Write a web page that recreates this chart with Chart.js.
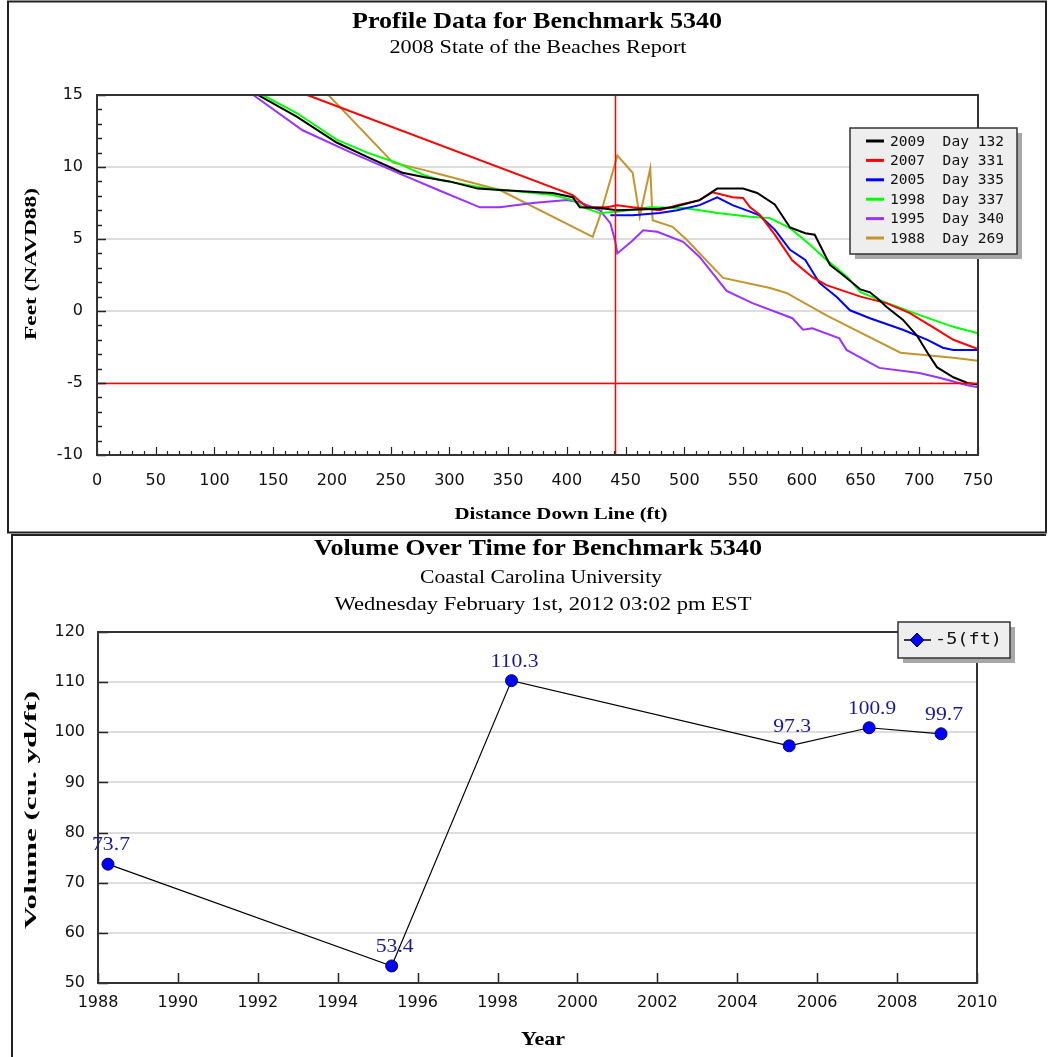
<!DOCTYPE html>
<html><head><meta charset="utf-8">
<script src="https://cdn.jsdelivr.net/npm/chart.js@4.4.1/dist/chart.umd.min.js"></script>
<style>
html,body{margin:0;padding:0;background:#fff;overflow:hidden}
#c1{position:absolute;left:0;top:0}
#c2{position:absolute;left:0;top:534px}
</style></head><body>
<canvas id="c1" width="1052" height="534"></canvas>
<canvas id="c2" width="1052" height="523"></canvas>
<script>
// ---------- Profile chart data (distance ft, elevation ft NAVD88) ----------
const dist2009 = [137,170,204,230,260,278,300,324,343,388,405,411,428,443,479,490,513,528,550,562,577,590,603,611,624,635,650,658,664,672,686,698,707,715,729,741,750];
const feet2009 = [15,13.5,11.7,10.7,9.6,9.3,9.0,8.5,8.4,8.2,7.9,7.2,7.15,7.0,7.1,7.2,7.7,8.5,8.5,8.2,7.4,5.8,5.4,5.3,3.2,2.5,1.5,1.3,0.9,0.3,-0.6,-1.7,-2.9,-3.9,-4.6,-5.0,-5.1];
const dist2007 = [179,405,417,434,443,456,479,494,513,524,541,550,556,564,577,592,609,621,650,672,692,715,729,750];
const feet2007 = [15,8.05,7.2,7.2,7.35,7.2,7.0,7.35,7.7,8.25,7.9,7.85,7.2,6.7,5.3,3.5,2.35,1.8,1.0,0.55,-0.15,-1.3,-2.0,-2.65];
const dist2005 = [437,456,479,494,513,528,541,556,564,577,590,603,615,630,641,658,686,707,720,729,750];
const feet2005 = [6.65,6.65,6.8,7.0,7.35,7.9,7.35,6.9,6.65,5.65,4.25,3.55,1.95,0.95,0.05,-0.5,-1.3,-2.0,-2.55,-2.7,-2.7];
const dist1998 = [141,170,204,230,255,278,292,329,388,405,414,428,443,471,499,513,528,556,573,590,607,621,639,650,673,701,729,750];
const feet1998 = [15,13.75,11.9,11.0,10.3,9.45,9.1,8.55,8.05,7.7,7.2,6.8,6.9,7.2,7.15,7.0,6.8,6.55,6.45,5.75,4.6,3.55,2.35,1.3,0.55,-0.3,-1.1,-1.55];
const dist1995 = [133,175,215,260,292,326,343,371,400,411,428,437,441,443,456,465,477,499,513,536,558,592,601,609,632,638,666,700,718,741,750];
const feet1995 = [15,12.55,11.05,9.45,8.35,7.2,7.2,7.5,7.7,7.55,7.0,6.1,4.9,4.0,4.9,5.6,5.5,4.8,3.75,1.4,0.55,-0.5,-1.3,-1.2,-1.9,-2.7,-3.95,-4.3,-4.65,-5.15,-5.3];
const dist1988 = [197,252,278,292,343,422,428,443,456,462,471,473,490,502,533,573,587,621,684,729,750];
const feet1988 = [15,10.3,9.8,9.5,8.4,5.15,6.55,10.8,9.6,6.55,9.9,6.3,5.85,4.95,2.3,1.6,1.25,-0.3,-2.9,-3.25,-3.45];

const profileYears = ['2009','2007','2005','1998','1995','1988'];
const profileDays  = ['132','331','335','337','340','269'];
const profileColors = ['#000000','#ff0000','#0000ff','#00ff00','#9933ff','#c4952f'];
const profileDist = [dist2009, dist2007, dist2005, dist1998, dist1995, dist1988];
const profileFeet = [feet2009, feet2007, feet2005, feet1998, feet1995, feet1988];

const profileXTicks = [0,50,100,150,200,250,300,350,400,450,500,550,600,650,700,750];
const profileYTicks = [-10,-5,0,5,10,15];
const refDistance = 441;   // vertical red reference line
const refElevation = -5;   // horizontal red reference line

// ---------- Volume chart data ----------
const volYears  = [1988.25, 1995.35, 1998.35, 2005.3, 2007.3, 2009.1];
const volValues = [73.7, 53.4, 110.3, 97.3, 100.9, 99.7];
const volXTicks = [1988,1990,1992,1994,1996,1998,2000,2002,2004,2006,2008,2010];
const volYTicks = [50,60,70,80,90,100,110,120];
const volLegend = '-5(ft)';

// ---------- helpers ----------
const SERIF = '"Liberation Serif","Times New Roman",serif';
const SANS = '"DejaVu Sans",Verdana,sans-serif';
const MONO = '"DejaVu Sans Mono",monospace';

function drawText(ctx, text, x, y, font, o) {
  o = o || {};
  ctx.save();
  ctx.font = font;
  ctx.fillStyle = o.color || '#000';
  ctx.textBaseline = 'middle';
  ctx.textAlign = o.align || 'center';
  const w = ctx.measureText(text).width;
  const sx = o.width ? o.width / w : 1;
  ctx.translate(x, y);
  if (o.rotate) ctx.rotate(o.rotate);
  ctx.scale(sx, 1);
  ctx.fillText(text, 0, 0);
  ctx.restore();
}
function frame(ctx, a, color, lw) {
  ctx.save();
  ctx.strokeStyle = color; ctx.lineWidth = lw;
  ctx.strokeRect(a.left, a.top, a.right - a.left, a.bottom - a.top);
  ctx.restore();
}
function line(ctx, x1, y1, x2, y2, color, lw) {
  ctx.save(); ctx.strokeStyle = color; ctx.lineWidth = lw;
  ctx.beginPath(); ctx.moveTo(x1, y1); ctx.lineTo(x2, y2); ctx.stroke(); ctx.restore();
}
function legendBox(ctx, x, y, w, h) {
  ctx.save();
  ctx.fillStyle = '#a8a8a8';
  ctx.fillRect(x + 5, y + 5, w, h);
  ctx.fillStyle = '#eeeeee';
  ctx.fillRect(x, y, w, h);
  ctx.strokeStyle = '#333'; ctx.lineWidth = 1.5;
  ctx.strokeRect(x, y, w, h);
  ctx.restore();
}

// ---------- Profile chart ----------
const profileDecor = {
  id: 'profileDecor',
  afterDatasetsDraw(chart) {
    const ctx = chart.ctx, a = chart.chartArea, xs = chart.scales.x, ys = chart.scales.y;
    const rx = Math.round(xs.getPixelForValue(refDistance)) + 0.5;
    const ry = Math.round(ys.getPixelForValue(refElevation)) + 0.5;
    line(ctx, a.left, ry, a.right, ry, '#ff0000', 1.5);
    line(ctx, rx, a.top, rx, a.bottom, '#ff0000', 1.5);
  },
  afterDraw(chart) {
    const ctx = chart.ctx, a = chart.chartArea, xs = chart.scales.x, ys = chart.scales.y;
    for (let v = -10; v <= 15; v += 1) {
      const y = Math.round(ys.getPixelForValue(v)) + 0.5;
      line(ctx, a.left, y, a.left + (v % 5 === 0 ? 9 : 5), y, '#222', 1.5);
    }
    for (let v = 0; v <= 750; v += 10) {
      const x = Math.round(xs.getPixelForValue(v)) + 0.5;
      line(ctx, x, a.bottom, x, a.bottom - (v % 50 === 0 ? 8 : 4), '#222', 1.2);
    }
    frame(ctx, a, '#333', 2);
    drawText(ctx, 'Profile Data for Benchmark 5340', 537, 22, 'bold 24px ' + SERIF, {width: 370});
    drawText(ctx, '2008 State of the Beaches Report', 538, 48, '19px ' + SERIF, {width: 297});
    drawText(ctx, 'Distance Down Line (ft)', 561, 515, 'bold 17px ' + SERIF, {width: 213});
    drawText(ctx, 'Feet (NAVD88)', 32, 264, 'bold 17px ' + SERIF, {width: 152, rotate: -Math.PI / 2});
    legendBox(ctx, 850, 128, 167, 126);
    profileYears.forEach((yr, i) => {
      const cy = 141 + i * 19.4;
      line(ctx, 866, cy, 884, cy, profileColors[i], 3);
      drawText(ctx, yr + '  Day ' + profileDays[i], 890, cy + 1, '14px ' + MONO, {align: 'left', width: 114, color: '#111'});
    });
    ctx.save(); ctx.strokeStyle = '#222'; ctx.lineWidth = 2;
    ctx.strokeRect(8, 1.5, 1038, 531); ctx.restore();
  }
};

new Chart(document.getElementById('c1'), {
  type: 'line',
  data: {
    datasets: profileYears.map((yr, i) => ({
      label: yr + '  Day ' + profileDays[i],
      data: profileDist[i].map((d, j) => ({x: d, y: profileFeet[i][j]})),
      borderColor: profileColors[i],
      borderWidth: 2,
      pointRadius: 0,
      fill: false,
      tension: 0
    }))
  },
  options: {
    responsive: false, animation: false, devicePixelRatio: 1,
    layout: {padding: {left: 40, right: 74, top: 95, bottom: 45}},
    plugins: {legend: {display: false}, tooltip: {enabled: false}},
    scales: {
      x: {
        type: 'linear', min: 0, max: 750,
        afterFit: s => { s.height = 34; },
        afterBuildTicks: s => { s.ticks = profileXTicks.map(v => ({value: v})); },
        grid: {display: false, drawTicks: false},
        border: {display: false},
        ticks: {padding: 16, color: '#111', font: {family: SANS, size: 16}, autoSkip: false, maxRotation: 0}
      },
      y: {
        type: 'linear', min: -10, max: 15,
        afterFit: s => { s.width = 57; },
        afterBuildTicks: s => { s.ticks = profileYTicks.map(v => ({value: v})); },
        grid: {color: '#dddddd', lineWidth: 2, drawTicks: false},
        border: {display: false},
        ticks: {padding: 14, color: '#111', font: {family: SANS, size: 16}}
      }
    }
  },
  plugins: [profileDecor]
});

// ---------- Volume chart ----------
const volumeDecor = {
  id: 'volumeDecor',
  afterDatasetsDraw(chart) {
    const ctx = chart.ctx, a = chart.chartArea, xs = chart.scales.x, ys = chart.scales.y;
    volXTicks.forEach(v => {
      const x = Math.round(xs.getPixelForValue(v)) + 0.5;
      line(ctx, x, a.bottom, x, a.bottom - 10, '#222', 1.5);
    });
    volYTicks.forEach(v => {
      const y = Math.round(ys.getPixelForValue(v)) + 0.5;
      line(ctx, a.left, y, a.left + 10, y, '#222', 1.5);
    });
    frame(ctx, a, '#333', 2);
    const meta = chart.getDatasetMeta(0);
    meta.data.forEach((pt, i) => {
      drawText(ctx, volValues[i].toFixed(1), pt.x + 3, pt.y - 19, '19px ' + SERIF, {color: '#1a1a99', width: volValues[i] >= 100 ? 48 : 38});
    });
  },
  afterDraw(chart) {
    const ctx = chart.ctx;
    drawText(ctx, 'Volume Over Time for Benchmark 5340', 538, 15, 'bold 24px ' + SERIF, {width: 448});
    drawText(ctx, 'Coastal Carolina University', 541, 44, '19px ' + SERIF, {width: 242});
    drawText(ctx, 'Wednesday February 1st, 2012 03:02 pm EST', 543, 71, '19px ' + SERIF, {width: 417});
    drawText(ctx, 'Year', 543, 506, 'bold 18px ' + SERIF, {width: 44});
    drawText(ctx, 'Volume (cu. yd/ft)', 32, 276, 'bold 17px ' + SERIF, {width: 238, rotate: -Math.PI / 2});
    legendBox(ctx, 898, 88, 112, 36);
    line(ctx, 904, 106, 931, 106, '#000', 1.5);
    ctx.save();
    ctx.fillStyle = '#0000ff'; ctx.strokeStyle = '#000060'; ctx.lineWidth = 1;
    ctx.beginPath(); ctx.moveTo(917, 99); ctx.lineTo(924, 106); ctx.lineTo(917, 113); ctx.lineTo(910, 106); ctx.closePath();
    ctx.fill(); ctx.stroke(); ctx.restore();
    drawText(ctx, volLegend, 935, 106, '15px ' + MONO, {align: 'left', width: 67, color: '#111'});
    line(ctx, 12, 1, 1046, 1, '#222', 2);
    line(ctx, 12, 0, 12, 523, '#222', 2);
  }
};

new Chart(document.getElementById('c2'), {
  type: 'line',
  data: {
    datasets: [{
      label: volLegend,
      data: volYears.map((yr, i) => ({x: yr, y: volValues[i]})),
      borderColor: '#000',
      borderWidth: 1.2,
      pointRadius: 6,
      pointBackgroundColor: '#0000ff',
      pointBorderColor: '#000070',
      pointBorderWidth: 1,
      fill: false, tension: 0
    }]
  },
  options: {
    responsive: false, animation: false, devicePixelRatio: 1,
    layout: {padding: {left: 40, right: 75, top: 98, bottom: 40}},
    plugins: {legend: {display: false}, tooltip: {enabled: false}},
    scales: {
      x: {
        type: 'linear', min: 1988, max: 2010,
        afterFit: s => { s.height = 34; },
        afterBuildTicks: s => { s.ticks = volXTicks.map(v => ({value: v})); },
        grid: {display: false, drawTicks: false},
        border: {display: false},
        ticks: {padding: 10, color: '#111', font: {family: SANS, size: 16}, autoSkip: false, maxRotation: 0, callback: v => String(v)}
      },
      y: {
        type: 'linear', min: 50, max: 120,
        afterFit: s => { s.width = 58; },
        afterBuildTicks: s => { s.ticks = volYTicks.map(v => ({value: v})); },
        grid: {color: ctx => (ctx.tick.value === 50 || ctx.tick.value === 120) ? 'rgba(0,0,0,0)' : '#dddddd', lineWidth: 2, drawTicks: false},
        border: {display: false},
        ticks: {padding: 13, color: '#111', font: {family: SANS, size: 16}}
      }
    }
  },
  plugins: [volumeDecor]
});
</script>
</body></html>
